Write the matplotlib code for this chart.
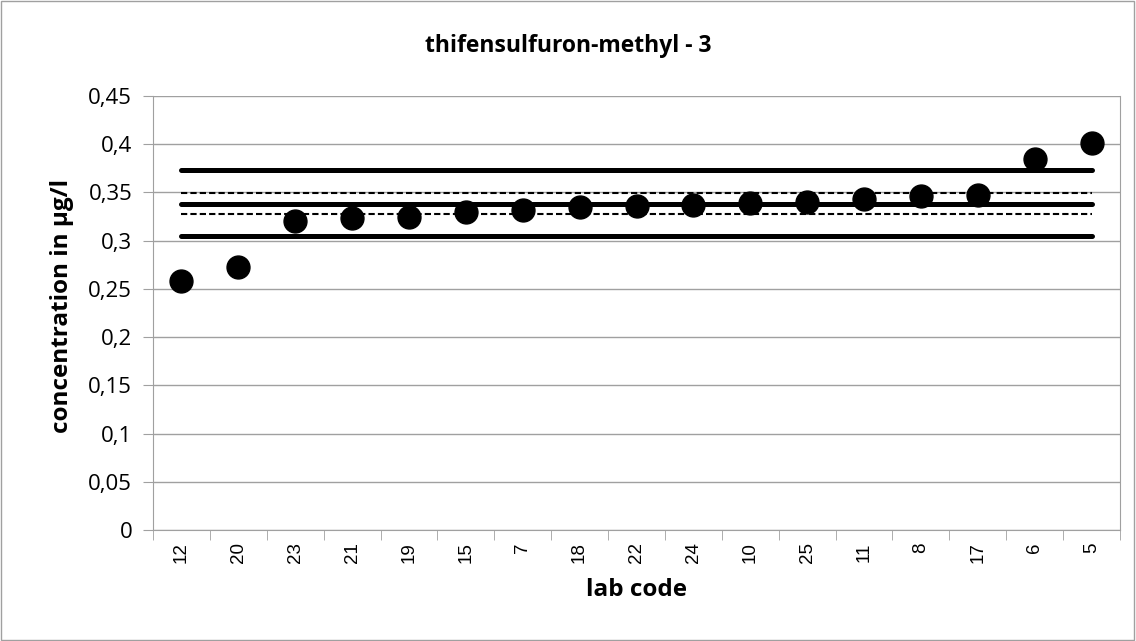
import matplotlib
matplotlib.use("Agg")
import matplotlib.pyplot as plt
from matplotlib.ticker import FuncFormatter, MultipleLocator, FixedLocator
from matplotlib.patches import Rectangle

# lab codes in plot order and their reported concentrations (µg/l)
lab_codes = ["12", "20", "23", "21", "19", "15", "7", "18", "22", "24",
             "10", "25", "11", "8", "17", "6", "5"]
concentrations = [0.258, 0.273, 0.320, 0.324, 0.325, 0.330, 0.332, 0.335,
                  0.336, 0.337, 0.339, 0.340, 0.343, 0.346, 0.347, 0.385, 0.401]

# reference lines: assigned value, tolerance limits (solid) and uncertainty band (dashed)
assigned_value = 0.338
upper_limit = 0.373
lower_limit = 0.305
upper_uncert = 0.349
lower_uncert = 0.3275

plt.rcParams['font.family'] = ['Open Sans', 'DejaVu Sans']

fig = plt.figure(figsize=(11.36, 6.41), dpi=100)
ax = fig.add_axes([0.1347, 0.1732, 0.8512, 0.677])

x = list(range(len(lab_codes)))
x_ends = [x[0], x[-1]]

for level in [upper_limit, assigned_value, lower_limit]:
    ax.plot(x_ends, [level] * 2, color='black', linewidth=3.6, solid_capstyle='round', zorder=2)
for level in [upper_uncert, lower_uncert]:
    ax.plot(x_ends, [level] * 2, color='black', linewidth=1.5, linestyle=(0, (3, 1.5)), zorder=2)

ax.plot(x, concentrations, linestyle='none', marker='o', markersize=16.5,
        color='black', zorder=3)

ax.set_xlim(-0.5, len(lab_codes) - 0.5)
ax.set_ylim(0, 0.45)
ax.yaxis.set_major_locator(MultipleLocator(0.05))
ax.yaxis.set_major_formatter(FuncFormatter(lambda v, p: ('%g' % round(v, 2)).replace('.', ',')))
ax.grid(True, axis='y', color='#a0a0a0', linewidth=1.0, zorder=0)
ax.set_axisbelow(True)

ax.set_xticks(x)
ax.set_xticklabels(lab_codes, rotation=90, fontsize=13.5, family=['Liberation Sans', 'DejaVu Sans'])
ax.xaxis.set_minor_locator(FixedLocator([i - 0.5 for i in range(len(lab_codes) + 1)]))
ax.tick_params(axis='x', which='major', length=0, pad=9)
ax.tick_params(axis='x', which='minor', length=7, color='#a0a0a0', direction='out')
ax.tick_params(axis='y', length=7, color='#a0a0a0', direction='out', labelsize=16, pad=8)

for side in ['left', 'bottom', 'right', 'top']:
    ax.spines[side].set_color('#a0a0a0')
ax.spines['top'].set_visible(False)

fig.text(0.5, 0.929, 'thifensulfuron-methyl - 3', ha='center', va='center',
         fontsize=16.5, fontweight='bold')
fig.text(636 / 1136, 1 - 590 / 641, 'lab code', ha='center', va='center',
         fontsize=17.5, fontweight='bold')
fig.text(62 / 1136, 1 - 306 / 641, 'concentration in µg/l', ha='center', va='center',
         rotation=90, fontsize=17.5, fontweight='bold')

fig.patches.append(Rectangle((0.0005, 0.001), 0.998, 0.997, transform=fig.transFigure,
                             fill=False, edgecolor='#a0a0a0', linewidth=1.0))

fig.savefig('out.png', dpi=100)
